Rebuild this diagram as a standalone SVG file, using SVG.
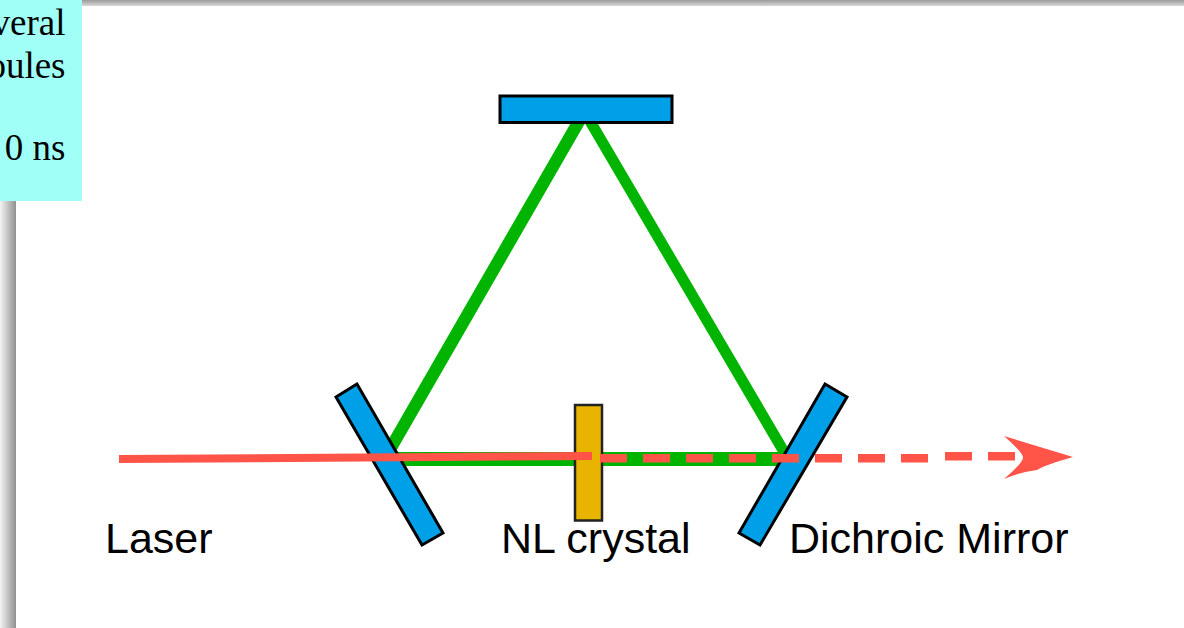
<svg xmlns="http://www.w3.org/2000/svg" width="1184" height="628" viewBox="0 0 1184 628">
  <style>
    .mirror { fill: #00A0E9; stroke: #000; stroke-width: 3; stroke-linejoin: miter; }
    .green { stroke: #00B400; fill: none; }
    .red { stroke: #FF5447; fill: none; }
    .label { font-family: "Liberation Sans", Arial, sans-serif; font-size: 43px; fill: #000; }
    .note { font-family: "Liberation Serif", "Times New Roman", serif; font-size: 37px; fill: #000; text-anchor: end; }
  </style>
  <defs>
    <linearGradient id="shadowTop" x1="0" y1="0" x2="0" y2="1">
      <stop offset="0" stop-color="#9a9a9a"/>
      <stop offset="1" stop-color="#d8d8d8"/>
    </linearGradient>
    <linearGradient id="shadowLeft" x1="0" y1="0" x2="1" y2="0">
      <stop offset="0" stop-color="#f4f4f4"/>
      <stop offset="1" stop-color="#909090"/>
    </linearGradient>
  </defs>
  <rect width="1184" height="628" fill="#fff"/>
  <g id="page-shadow">
    <rect x="82" y="0" width="1102" height="6" fill="url(#shadowTop)"/>
    <rect x="0" y="201" width="16" height="427" fill="url(#shadowLeft)"/>
  </g>
  <g id="note">
    <rect x="0" y="0" width="82" height="201" fill="#A0FFF6"/>
    <text class="note" x="65.5" y="35">veral</text>
    <text class="note" x="65.5" y="78">oules</text>
    <text class="note" x="65.5" y="160">0 ns</text>
  </g>
  <g id="connectors">
    <path class="green" stroke-width="12.5" d="M582 116 L385 458"/>
    <path class="green" stroke-width="11" d="M587 116 L790 462"/>
    <path class="green" stroke-width="14" d="M390 459 H785"/>
  </g>
  <g id="mirror-top"><rect class="mirror" x="500" y="96" width="172" height="26.5"/></g>
  <g id="mirror-left"><polygon class="mirror" points="357,384 336,397 422,545 443,533"/></g>
  <g id="mirror-right"><polygon class="mirror" points="825,384 847,397 760,545 739,533"/></g>
  <g id="crystal"><rect x="575" y="405" width="27" height="115.5" fill="#E8B400" stroke="#222" stroke-width="2.5"/></g>
  <g id="beam">
    <path class="red" stroke-width="8" d="M119 459 L592 456"/>
    <path class="red" stroke-width="8.6" stroke-dasharray="27 16" d="M600 458.3 H929"/>
    <path class="red" stroke-width="8.6" stroke-dasharray="27 16" d="M945 456.3 H1015"/>
    <path fill="#FF5447" d="M1004 436 L1073 457 Q1045 465 1037 470 Q1020 472 1004 479 Q1024 462 1023 457 Q1022 452 1004 436 Z"/>
  </g>
  <g id="label-laser"><text class="label" x="105" y="553">Laser</text></g>
  <g id="label-crystal"><text class="label" x="501" y="553">NL crystal</text></g>
  <g id="label-mirror"><text class="label" x="789" y="553">Dichroic Mirror</text></g>
</svg>
